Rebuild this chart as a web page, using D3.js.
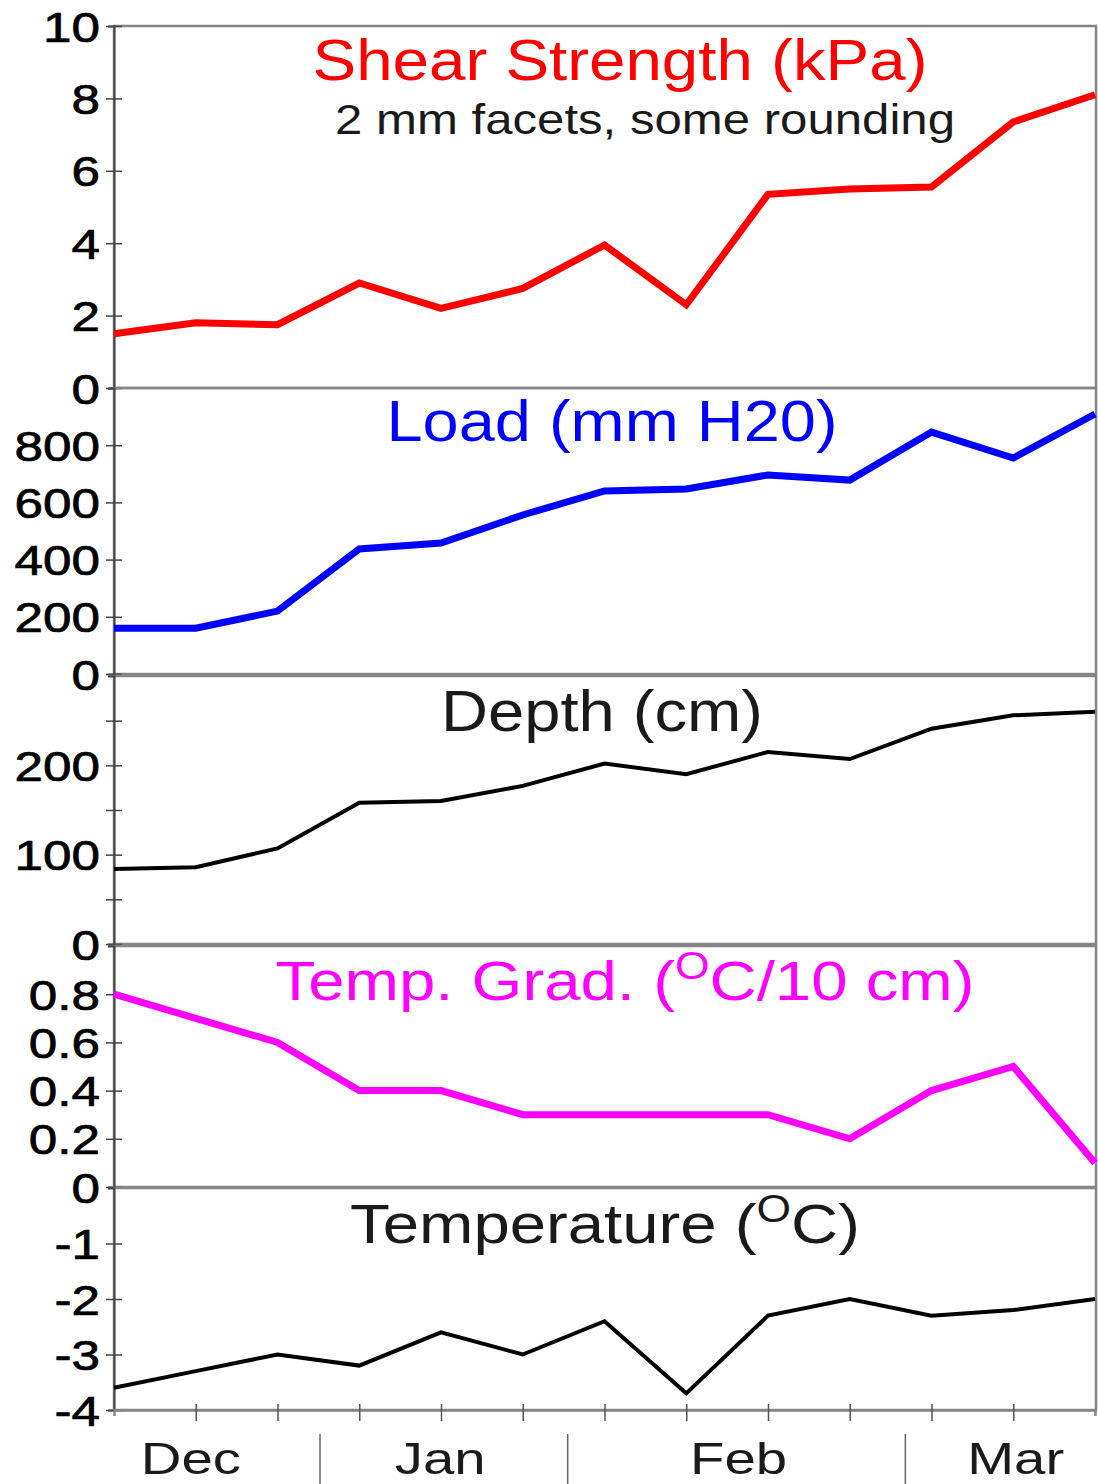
<!DOCTYPE html>
<html>
<head>
<meta charset="utf-8">
<script src="https://cdn.jsdelivr.net/npm/d3@7"></script>
<style>
body { margin: 0; background: #fff; }
text { font-family: "Liberation Sans", Arial, sans-serif; }
</style>
</head>
<body>
<div id="chart"></div>
<script>
// sample number along the season (13 field visits)
var samples = [0, 1, 2, 3, 4, 5, 6, 7, 8, 9, 10, 11, 12];

var shear = [1.5, 1.8, 1.75, 2.9, 2.2, 2.75, 3.95, 2.3, 5.35, 5.5, 5.55, 7.35, 8.1];
var load = [160, 160, 220, 437, 458, 556, 640, 647, 696, 678, 846, 755, 909];
var depth = [84, 86, 107, 158, 160, 177, 202, 190, 215, 207, 241, 256, 260];
var tempGrad = [0.8, 0.7, 0.6, 0.4, 0.4, 0.3, 0.3, 0.3, 0.3, 0.2, 0.4, 0.5, 0.1];
var temperature = [-3.6, -3.3, -3.0, -3.2, -2.6, -3.0, -2.4, -3.7, -2.3, -2.0, -2.3, -2.2, -2.0];

var months = ["Dec", "Jan", "Feb", "Mar"];
var monthPos = [0.94, 3.99, 7.64, 11.03];
var monthBreaks = [2.52, 5.55, 9.68];
var sampleTicks = [1, 2, 3, 4, 5, 6, 7, 8, 9, 10, 11];

var shearTicks = [0, 2, 4, 6, 8, 10];
var loadTicks = [0, 200, 400, 600, 800];
var depthTicks = [0, 50, 100, 150, 200, 250];
var depthLabels = [0, 100, 200];
var gradTicks = [0, 0.2, 0.4, 0.6, 0.8];
var tempTicks = [-4, -3, -2, -1];

var svg = d3.select("#chart")
  .append("svg")
  .attr("width", 1098)
  .attr("height", 1484);

var left = 114, right = 1096;

var x = d3.scaleLinear()
  .domain([0, 12])
  .range([left, 1095]);

// plain number labels with an ascii hyphen for negatives, "0" for zero
function num(d) {
  return d === 0 ? "0" : String(d);
}

var panels = [
  {values: shear, domain: [0, 10], ticks: shearTicks, labels: shearTicks,
   top: 26, bottom: 388, color: "#ff0000", lw: 7},
  {values: load, domain: [0, 1000], ticks: loadTicks, labels: loadTicks,
   top: 388, bottom: 674, color: "#0000ff", lw: 7},
  {values: depth, domain: [0, 300], ticks: depthTicks, labels: depthLabels,
   top: 676, bottom: 944, color: "#000000", lw: 4},
  {values: tempGrad, domain: [0, 1], ticks: gradTicks, labels: gradTicks,
   top: 946, bottom: 1187, color: "#ff00ff", lw: 7},
  {values: temperature, domain: [-4, 0], ticks: tempTicks, labels: tempTicks,
   top: 1188, bottom: 1410, color: "#000000", lw: 4}
];

panels.forEach(function(p) {
  var y = d3.scaleLinear()
    .domain(p.domain)
    .range([p.bottom, p.top]);

  // frame
  svg.append("rect")
    .attr("x", left)
    .attr("y", p.top)
    .attr("width", right - left)
    .attr("height", p.bottom - p.top)
    .attr("fill", "none")
    .attr("stroke", "#858585")
    .attr("stroke-width", 2.5);

  var ax = svg.append("g")
    .attr("transform", "translate(" + left + ",0)")
    .call(d3.axisLeft(y)
      .tickValues(p.ticks)
      .tickFormat(function(d) { return p.labels.indexOf(d) >= 0 ? num(d) : ""; }));

  ax.select(".domain")
    .attr("stroke", "#444")
    .attr("stroke-width", 2);
  ax.selectAll(".tick line")
    .attr("x1", 8)
    .attr("x2", -8)
    .attr("stroke", "#444")
    .attr("stroke-width", 1.5);
  ax.selectAll(".tick text")
    .attr("x", -14 / 1.22)
    .attr("dy", "0.36em")
    .attr("transform", "scale(1.22,1)")
    .attr("fill", "#000")
    .attr("stroke", "#000")
    .attr("stroke-width", 0.7)
    .style("font-size", "42px");

  var line = d3.line()
    .x(function(d, i) { return x(samples[i]); })
    .y(function(d) { return y(d); });

  svg.append("path")
    .datum(p.values)
    .attr("fill", "none")
    .attr("stroke", p.color)
    .attr("stroke-width", p.lw)
    .attr("stroke-linejoin", "miter")
    .attr("d", line);
});

// bottom axis
var bx = svg.append("g")
  .attr("transform", "translate(0,1410)")
  .call(d3.axisBottom(x).tickValues(sampleTicks).tickFormat(""));
bx.select(".domain").attr("stroke", "#858585").attr("stroke-width", 2.5);
bx.selectAll(".tick line")
  .attr("y1", -6)
  .attr("y2", 11)
  .attr("stroke", "#555")
  .attr("stroke-width", 1.5);

svg.selectAll(".month-break")
  .data(monthBreaks)
  .enter().append("line")
  .attr("x1", function(d) { return x(d); })
  .attr("x2", function(d) { return x(d); })
  .attr("y1", 1434)
  .attr("y2", 1484)
  .attr("stroke", "#666")
  .attr("stroke-width", 1.5);

svg.selectAll(".month")
  .data(months)
  .enter().append("text")
  .attr("x", 0)
  .attr("y", 0)
  .attr("text-anchor", "middle")
  .attr("transform", function(d, i) { return "translate(" + x(monthPos[i]) + ",1474) scale(1.28,1)"; })
  .attr("fill", "#1a1a1a")
  .style("font-size", "44px")
  .text(function(d) { return d; });

// panel titles; a part given as {raised, rest} gets a superscript
function title(parts, cx, base, len, color, size) {
  var t = svg.append("text")
    .attr("x", cx)
    .attr("y", base)
    .attr("text-anchor", "middle")
    .attr("fill", color)
    .attr("textLength", len)
    .attr("lengthAdjust", "spacingAndGlyphs")
    .style("font-size", size + "px");
  parts.forEach(function(s) {
    if (typeof s === "object") {
      t.append("tspan").attr("dy", -size * 0.38).style("font-size", (size * 0.68) + "px").text(s.raised);
      t.append("tspan").attr("dy", size * 0.38).text(s.rest);
    } else {
      t.append("tspan").text(s);
    }
  });
}

title(["Shear Strength (kPa)"], 620, 80, 615, "#ff0000", 57);
title(["2 mm facets, some rounding"], 645, 134, 620, "#1a1a1a", 43);
title(["Load (mm H20)"], 612, 441, 451, "#0000ff", 57);
title(["Depth (cm)"], 602, 731, 322, "#1a1a1a", 57);
title(["Temp. Grad. (", {raised: "O", rest: "C/10 cm)"}], 625, 1000, 699, "#ff00ff", 56);
title(["Temperature (", {raised: "O", rest: "C)"}], 605, 1243, 510, "#1a1a1a", 56);
</script>
</body>
</html>
